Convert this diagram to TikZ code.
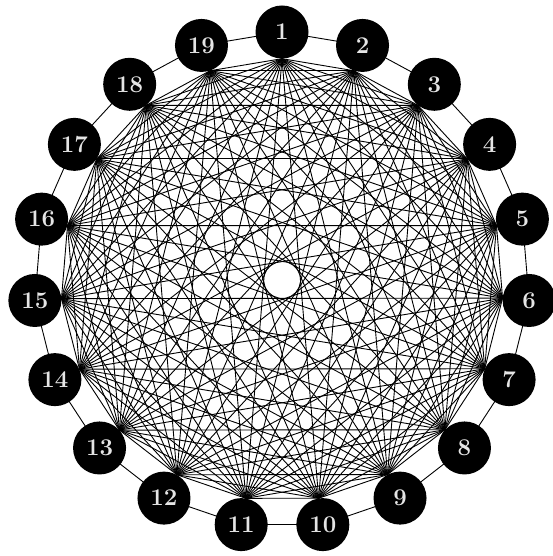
\documentclass[tikz,border=0pt]{standalone}
\usetikzlibrary{backgrounds}
\begin{document}
\begin{tikzpicture}[x=1pt,y=-1pt,
  vtx/.style={circle,fill=black,minimum size=53pt,inner sep=0pt,text=white!90!black,font=\fontsize{24}{24}\selectfont\bfseries},
  edge/.style={line width=0.9pt,black}]
\useasboundingbox (0,0) rectangle (553,556);
\def\cx{282}\def\cy{280}\def\R{248}
\foreach \i in {1,...,19}{
  \pgfmathsetmacro\a{90-(\i-1)*360/19}
  \pgfmathsetmacro\px{\cx+\R*cos(\a)}
  \pgfmathsetmacro\py{\cy-\R*sin(\a)}
  \node[vtx] (v\i) at (\px,\py) {\i};
}
\begin{pgfonlayer}{background}
\foreach \i in {1,...,19}{
  \pgfmathtruncatemacro\j{mod(\i,19)+1}
  \draw[edge] (v\i.center) -- (v\j.center);
}
\foreach \i in {1,...,18}{
  \pgfmathsetmacro\bi{270-(\i-1)*360/19}
  \pgfmathtruncatemacro\s{\i+1}
  \foreach \j in {\s,...,19}{
    \pgfmathsetmacro\bj{270-(\j-1)*360/19}
    \draw[edge] (v\i.\bi) -- (v\j.\bj);
  }
}
\end{pgfonlayer}
\end{tikzpicture}
\end{document}
